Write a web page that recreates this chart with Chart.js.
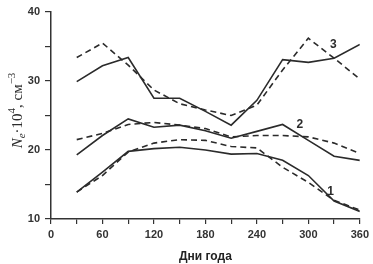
<!DOCTYPE html>
<html>
<head>
<meta charset="utf-8">
<script src="https://cdn.jsdelivr.net/npm/chart.js@4.4.1/dist/chart.umd.min.js"></script>
<style>
html,body{margin:0;padding:0;background:#fff;}
#wrap{width:373px;height:264px;position:relative;}
</style>
</head>
<body>
<div id="wrap"><canvas id="c"></canvas></div>
<script>
const days = [30, 60, 90, 120, 150, 180, 210, 240, 270, 300, 330, 360];
const s1Solid  = [13.9, 16.8, 19.8, 20.2, 20.4, 20.0, 19.4, 19.5, 18.5, 16.3, 12.6, 11.1];
const s1Dashed = [13.9, 16.3, 19.7, 21.0, 21.5, 21.4, 20.5, 20.3, 17.5, 15.3, 12.7, 11.3];
const s2Solid  = [19.3, 22.1, 24.5, 23.3, 23.6, 22.8, 21.7, 22.7, 23.7, 21.4, 19.1, 18.5];
const s2Dashed = [21.5, 22.4, 23.7, 24.0, 23.6, 23.1, 21.9, 22.1, 22.1, 21.9, 21.0, 19.5];
const s3Solid  = [29.9, 32.2, 33.4, 27.5, 27.5, 25.6, 23.6, 27.2, 33.1, 32.7, 33.3, 35.3];
const s3Dashed = [33.4, 35.5, 32.3, 28.7, 26.7, 25.8, 25.0, 26.5, 31.6, 36.2, 33.3, 30.3];
const seriesLabels = [
  {text: '1', day: 326, value: 14.0},
  {text: '2', day: 290, value: 23.6},
  {text: '3', day: 329, value: 35.2}
];
const xTitle = 'Дни года';
const yTitleParts = [
  {t: 'N', style: 'italic', shift: 0, scale: 1},
  {t: 'e', style: 'italic', shift: 4, scale: 0.7},
  {t: '·10', style: 'normal', shift: 0, scale: 1},
  {t: '4', style: 'normal', shift: -6, scale: 0.7},
  {t: ', см', style: 'normal', shift: 0, scale: 1},
  {t: '−3', style: 'normal', shift: -6, scale: 0.7}
];

const lineColor = '#2b2b2b';
function mk(data, dashed) {
  return {
    data: days.map((d, i) => ({x: d, y: data[i]})),
    borderColor: lineColor,
    borderWidth: 1.6,
    borderDash: dashed ? [6, 4] : [],
    pointRadius: 0,
    tension: 0,
    fill: false
  };
}

const labelPlugin = {
  id: 'extraText',
  afterDraw(chart) {
    const ctx = chart.ctx;
    const xs = chart.scales.x, ys = chart.scales.y;
    ctx.save();
    ctx.fillStyle = '#2b2b2b';
    ctx.font = 'bold 12px "Liberation Sans", Arial, sans-serif';
    ctx.textAlign = 'center';
    ctx.textBaseline = 'middle';
    seriesLabels.forEach(l => {
      ctx.fillText(l.text, xs.getPixelForValue(l.day), ys.getPixelForValue(l.value));
    });
    // y title
    const base = 15;
    const fontFor = p => `${p.style} ${Math.round(base * p.scale)}px "Liberation Serif", "Times New Roman", serif`;
    let total = 0;
    yTitleParts.forEach(p => { ctx.font = fontFor(p); total += ctx.measureText(p.t).width; });
    const cy = (ys.top + ys.bottom) / 2 - 5;
    ctx.translate(18, cy);
    ctx.rotate(-Math.PI / 2);
    ctx.textAlign = 'left';
    ctx.textBaseline = 'middle';
    let x = -total / 2;
    yTitleParts.forEach(p => {
      ctx.font = fontFor(p);
      ctx.fillText(p.t, x, p.shift);
      x += ctx.measureText(p.t).width;
    });
    ctx.restore();
  }
};

new Chart(document.getElementById('c'), {
  type: 'line',
  data: {
    datasets: [
      mk(s1Solid, false), mk(s1Dashed, true),
      mk(s2Solid, false), mk(s2Dashed, true),
      mk(s3Solid, false), mk(s3Dashed, true)
    ]
  },
  options: {
    responsive: true,
    maintainAspectRatio: false,
    animation: false,
    layout: {padding: {left: 0, right: 13, top: 12, bottom: 0}},
    plugins: {legend: {display: false}, tooltip: {enabled: false}},
    scales: {
      x: {
        type: 'linear',
        min: 0, max: 360,
        afterFit(s) { s.height = 45; },
        ticks: {
          stepSize: 30,
          autoSkip: false,
          maxRotation: 0,
          padding: 4,
          color: '#333',
          font: {family: '"Liberation Sans", Arial, sans-serif', size: 11, weight: 'bold'},
          callback: v => (v % 60 === 0 ? String(v) : '')
        },
        grid: {drawOnChartArea: false, drawTicks: true, tickLength: 5, color: '#333', lineWidth: 1.2},
        border: {display: true, color: '#333', width: 1.5},
        title: {
          display: true, text: xTitle, color: '#222',
          font: {family: '"Liberation Sans", Arial, sans-serif', size: 12, weight: 'bold'},
          padding: {top: 2, bottom: 0}
        }
      },
      y: {
        min: 10, max: 40,
        afterFit(s) { s.width = 51; },
        ticks: {
          stepSize: 5,
          padding: 5,
          color: '#333',
          font: {family: '"Liberation Sans", Arial, sans-serif', size: 11, weight: 'bold'},
          callback: v => (v % 10 === 0 ? String(v) : '')
        },
        grid: {drawOnChartArea: false, drawTicks: true, tickLength: 6, color: '#333', lineWidth: 1.2},
        border: {display: true, color: '#333', width: 1.5}
      }
    }
  },
  plugins: [labelPlugin]
});
</script>
</body>
</html>
